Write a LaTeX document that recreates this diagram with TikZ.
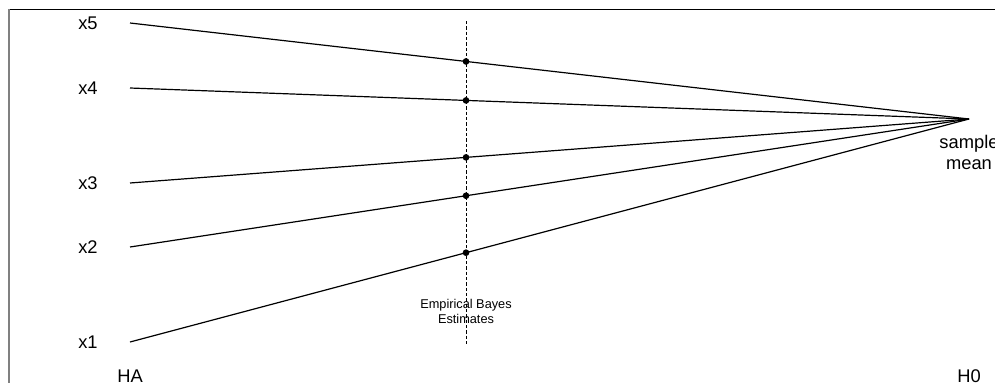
\documentclass[tikz,border=0pt]{standalone}
\usepackage{fontspec}
\setmainfont{Liberation Sans}
\usetikzlibrary{calc}
\begin{document}
\begin{tikzpicture}[x=0.75bp,y=-0.75bp,
  lbl/.style={inner sep=0pt,font=\fontsize{13.8}{15.75}\selectfont},
  small/.style={inner sep=0pt,align=center,font=\fontsize{9.6}{11.25}\selectfont},
  ray/.style={line width=0.9bp},
  est/.style={circle,fill=black,inner sep=0pt,minimum size=5bp},
  guide/.style={line width=0.75bp,dash pattern=on 2.5bp off 1.5bp}]
\useasboundingbox (0,0) rectangle (995,383);
% frame
\draw[line width=0.75bp] (8.5,9.5) -- (995,9.5);
\draw[line width=1.5bp,black!50] (8.5,9) -- (8.5,383);
% labels of the observations
\node[lbl] (x5) at (88,23) {x5};
\node[lbl] (x4) at (88,88) {x4};
\node[lbl] (x3) at (88,183) {x3};
\node[lbl] (x2) at (88,247) {x2};
\node[lbl] (x1) at (88,342) {x1};
\node[lbl] (ha) at (130,376) {HA};
\node[lbl] (h0) at (969,376) {H0};
\node[lbl,align=center] (sm) at (969,152) {sample\\mean};
% start points and common end point
\coordinate (s5) at (130,23);
\coordinate (s4) at (130,88);
\coordinate (s3) at (130,183);
\coordinate (s2) at (130,247);
\coordinate (s1) at (130,342);
\coordinate (m) at (969,119);
% vertical guide
\coordinate (gt) at (466,21);
\coordinate (gb) at (466,345);
\draw[guide] (gt) -- (gb);
\node[small] (eb) at (466,311) {Empirical Bayes\\Estimates};
% shrinkage lines
\foreach \i in {1,...,5}{
  \draw[ray] (s\i) -- (m);
  \node[est] (e\i) at ($(s\i)!0.4005!(m)$) {};
}
\end{tikzpicture}
\end{document}
